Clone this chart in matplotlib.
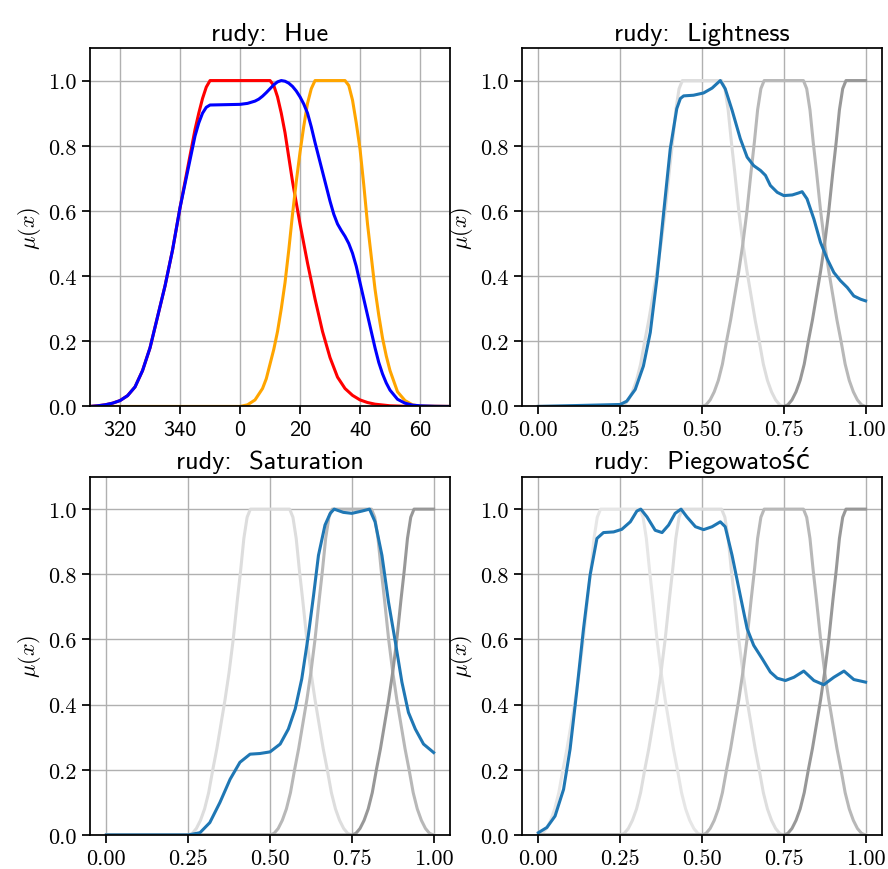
import numpy as np
import matplotlib
matplotlib.use("Agg")
import matplotlib.pyplot as plt

# ---- data ----
# Hue panel (x in degrees, wrapped: -40 -> 320)
hue_red_x = [-50, -47.5, -45, -42.5, -40, -37.5, -35, -32.5, -30, -27.5, -25, -22.5, -20, -17.5,
             -15, -13.75, -12.5, -11.25, -10,
             10, 11.25, 12.5, 13.75, 15, 16.25, 17.5, 18.75, 20, 21.25, 22.5, 25, 27.5, 30,
             32.5, 35, 37.5, 40, 42.5, 45, 50, 55, 70]
hue_red_y = [0.0, 0.002, 0.005, 0.01, 0.018, 0.033, 0.06, 0.11, 0.18, 0.275, 0.37, 0.48, 0.61, 0.73,
             0.85, 0.9, 0.945, 0.98, 1.0,
             1.0, 0.985, 0.95, 0.9, 0.84, 0.765, 0.69, 0.625, 0.56, 0.5, 0.44, 0.33, 0.23, 0.15,
             0.09, 0.055, 0.034, 0.02, 0.012, 0.007, 0.002, 0.0005, 0.0]

hue_orange_x = [-50, 0, 2.5, 5, 7.5, 8.75, 10, 11.25, 12.5, 13.75, 15, 16.25, 17.5, 18.75, 20,
                21.25, 22.5, 23.75, 25,
                35, 36.25, 37.5, 38.75, 40, 41.25, 42.5, 43.75, 45, 46.25, 47.5, 48.75, 50,
                52.5, 55, 57.5, 60, 70]
hue_orange_y = [0.0, 0.0, 0.005, 0.02, 0.055, 0.085, 0.13, 0.175, 0.23, 0.3, 0.38, 0.48, 0.59, 0.69, 0.78,
                0.86, 0.93, 0.975, 1.0,
                1.0, 0.985, 0.94, 0.87, 0.79, 0.68, 0.56, 0.46, 0.36, 0.28, 0.21, 0.155, 0.11,
                0.045, 0.018, 0.005, 0.001, 0.0]

hue_blue_x = [-50, -47.5, -45, -42.5, -40, -37.5, -35, -32.5, -30, -27.5, -25, -22.5, -20, -17.5,
              -15, -13.75, -12.5, -11.25, -10, -5, 0, 2.5, 5, 6.25, 7.5, 8.75, 10, 11.25, 12.5,
              13.75, 15, 16.25, 17.5, 18.75, 20, 21.25, 22.5, 23.75, 25, 26.25, 27.5, 28.75, 30,
              31.25, 32.5, 33.75, 35, 36.25, 37.5, 38.75, 40, 41.25, 42.5, 43.75, 45, 46.25,
              47.5, 48.75, 50, 52.5, 55, 57.5, 60, 65, 70]
hue_blue_y = [0.0, 0.002, 0.005, 0.01, 0.018, 0.033, 0.06, 0.11, 0.18, 0.275, 0.37, 0.48, 0.61, 0.72,
              0.83, 0.87, 0.9, 0.918, 0.925, 0.926, 0.927, 0.93, 0.937, 0.943, 0.952, 0.963, 0.975, 0.987, 0.996,
              1.0, 0.998, 0.992, 0.982, 0.968, 0.95, 0.928, 0.90, 0.858, 0.81, 0.765, 0.72, 0.675, 0.63,
              0.59, 0.56, 0.54, 0.522, 0.5, 0.47, 0.43, 0.38, 0.33, 0.28, 0.23, 0.18, 0.135,
              0.10, 0.072, 0.05, 0.022, 0.01, 0.004, 0.002, 0.0005, 0.0]

hue_ticks = [-40, -20, 0, 20, 40, 60]
hue_tick_labels = ['320', '340', '0', '20', '40', '60']

# fuzzy sets on [0, 1] (grey background curves)
set_p0_x = [0, 0.0125, 0.025, 0.0375, 0.05, 0.0625, 0.075, 0.0875, 0.1, 0.1125, 0.125, 0.1375,
            0.15, 0.16, 0.17, 0.18, 0.19,
            0.31, 0.32, 0.33, 0.34, 0.35, 0.3625, 0.375, 0.3875, 0.4, 0.4125, 0.425, 0.4375,
            0.45, 0.4625, 0.475, 0.4875, 0.5, 1.0]
set_p0_y = [0, 0.005, 0.02, 0.045, 0.08, 0.13, 0.2, 0.265, 0.34, 0.415, 0.5, 0.6,
            0.72, 0.81, 0.91, 0.975, 1.0,
            1.0, 0.975, 0.91, 0.81, 0.72, 0.6, 0.5, 0.415, 0.34, 0.265, 0.2, 0.13,
            0.08, 0.045, 0.02, 0.005, 0, 0]

set_low_x = [0, 0.25, 0.2625, 0.275, 0.2875, 0.3, 0.3125, 0.325, 0.3375, 0.35, 0.3625, 0.375,
             0.3875, 0.4, 0.41, 0.42, 0.43, 0.44,
             0.56, 0.57, 0.58, 0.59, 0.6, 0.6125, 0.625, 0.6375, 0.65, 0.6625, 0.675, 0.6875,
             0.7, 0.7125, 0.725, 0.7375, 0.75, 1.0]
set_low_y = [0, 0, 0.005, 0.02, 0.045, 0.08, 0.13, 0.2, 0.265, 0.34, 0.415, 0.5,
             0.6, 0.72, 0.81, 0.91, 0.975, 1.0,
             1.0, 0.975, 0.91, 0.81, 0.72, 0.6, 0.5, 0.415, 0.34, 0.265, 0.2, 0.13,
             0.08, 0.045, 0.02, 0.005, 0, 0]

set_mid_x = [0, 0.5, 0.5125, 0.525, 0.5375, 0.55, 0.5625, 0.575, 0.5875, 0.6, 0.6125, 0.625,
             0.6375, 0.65, 0.66, 0.67, 0.68, 0.69,
             0.81, 0.82, 0.83, 0.84, 0.85, 0.8625, 0.875, 0.8875, 0.9, 0.9125, 0.925, 0.9375,
             0.95, 0.9625, 0.975, 0.9875, 1.0]
set_mid_y = [0, 0, 0.005, 0.02, 0.045, 0.08, 0.13, 0.2, 0.265, 0.34, 0.415, 0.5,
             0.6, 0.72, 0.81, 0.91, 0.975, 1.0,
             1.0, 0.975, 0.91, 0.81, 0.72, 0.6, 0.5, 0.415, 0.34, 0.265, 0.2, 0.13,
             0.08, 0.045, 0.02, 0.005, 0]

set_high_x = [0, 0.75, 0.7625, 0.775, 0.7875, 0.8, 0.8125, 0.825, 0.8375, 0.85, 0.8625, 0.875,
              0.8875, 0.9, 0.91, 0.92, 0.93, 0.94, 1.0]
set_high_y = [0, 0, 0.005, 0.02, 0.045, 0.08, 0.13, 0.2, 0.265, 0.34, 0.415, 0.5,
              0.6, 0.72, 0.81, 0.91, 0.975, 1.0, 1.0]

# observed membership (blue) curves
light_x = [0, 0.25, 0.27, 0.296, 0.321, 0.342, 0.362, 0.383, 0.403, 0.423, 0.434, 0.444, 0.474, 0.505,
           0.531, 0.545, 0.556, 0.571, 0.592, 0.617, 0.638, 0.658, 0.679, 0.694, 0.709, 0.730, 0.75,
           0.776, 0.795, 0.806, 0.821, 0.842, 0.862, 0.883, 0.903, 0.923, 0.944, 0.964, 0.985, 1.0]
light_y = [0, 0.006, 0.016, 0.052, 0.124, 0.227, 0.39, 0.596, 0.79, 0.914, 0.945, 0.953, 0.955, 0.962,
           0.977, 0.99, 1.0, 0.975, 0.909, 0.822, 0.765, 0.739, 0.724, 0.709, 0.678, 0.657, 0.647,
           0.649, 0.655, 0.659, 0.637, 0.575, 0.504, 0.452, 0.411, 0.386, 0.365, 0.339, 0.329, 0.324]

sat_x = [0, 0.25, 0.286, 0.316, 0.347, 0.378, 0.408, 0.439, 0.469, 0.5, 0.531, 0.556, 0.577,
         0.597, 0.617, 0.633, 0.648, 0.668, 0.684, 0.696, 0.71, 0.724, 0.75, 0.781, 0.804, 0.821,
         0.842, 0.862, 0.883, 0.903, 0.923, 0.944, 0.969, 1.0]
sat_y = [0, 0.0, 0.007, 0.038, 0.10, 0.171, 0.223, 0.248, 0.25, 0.255, 0.279, 0.325, 0.387,
         0.479, 0.612, 0.735, 0.858, 0.951, 0.987, 1.0, 0.995, 0.99, 0.987, 0.994, 1.0, 0.961,
         0.858, 0.715, 0.592, 0.469, 0.376, 0.325, 0.279, 0.253]

freck_x = [0, 0.026, 0.051, 0.077, 0.097, 0.117, 0.138, 0.158, 0.179, 0.199, 0.230, 0.255,
           0.281, 0.301, 0.313, 0.332, 0.357, 0.378, 0.398, 0.418, 0.436, 0.454, 0.480, 0.505,
           0.531, 0.556, 0.571, 0.592, 0.617, 0.638, 0.658, 0.684, 0.709, 0.730, 0.755, 0.781,
           0.811, 0.842, 0.872, 0.903, 0.934, 0.964, 1.0]
freck_y = [0.007, 0.023, 0.058, 0.14, 0.264, 0.438, 0.633, 0.797, 0.91, 0.928, 0.93, 0.938,
           0.961, 0.994, 1.0, 0.976, 0.935, 0.928, 0.951, 0.987, 1.0, 0.976, 0.946, 0.937,
           0.946, 0.961, 0.946, 0.858, 0.735, 0.633, 0.582, 0.541, 0.5, 0.481, 0.474, 0.484,
           0.503, 0.474, 0.461, 0.484, 0.503, 0.477, 0.469]

# ---- style ----
plt.rcParams['mathtext.fontset'] = 'cm'
plt.rcParams['axes.unicode_minus'] = False
plt.rcParams['axes.linewidth'] = 1.25
for ax_name in ['xtick', 'ytick']:
    plt.rcParams[ax_name + '.major.size'] = 6
    plt.rcParams[ax_name + '.major.width'] = 1.25
    plt.rcParams[ax_name + '.labelsize'] = 16

serif = ['cmr10', 'DejaVu Serif']
sans = ['cmss10', 'DejaVu Sans']
LW = 2.2
BLUE = '#1f77b4'

fig, axes = plt.subplots(2, 2, figsize=(8.88, 8.7), dpi=100)
fig.subplots_adjust(left=0.1014, right=0.9932, bottom=0.0391, top=0.9437,
                    wspace=0.2, hspace=0.1955)


def style_axis(ax, title):
    ax.set_ylim(0, 1.1)
    ax.set_yticks([0, 0.2, 0.4, 0.6, 0.8, 1.0])
    ax.set_yticklabels(['0.0', '0.2', '0.4', '0.6', '0.8', '1.0'], family=serif)
    ax.grid(True, color='#b0b0b0', linewidth=1.0)
    ax.set_axisbelow(True)
    ax.set_title(title, family=sans, fontsize=19)
    ax.set_ylabel(r'$\mu(x)$', fontsize=16)


def unit_axis(ax):
    ax.set_xlim(-0.05, 1.05)
    ax.set_xticks([0, 0.25, 0.5, 0.75, 1.0])
    ax.set_xticklabels(['0.00', '0.25', '0.50', '0.75', '1.00'], family=serif)


# Hue
ax = axes[0, 0]
ax.plot(hue_red_x, hue_red_y, color='red', lw=LW)
ax.plot(hue_orange_x, hue_orange_y, color='orange', lw=LW)
ax.plot(hue_blue_x, hue_blue_y, color='blue', lw=LW)
ax.set_xlim(-50, 70)
ax.set_xticks(hue_ticks)
ax.set_xticklabels(hue_tick_labels, family=sans)
style_axis(ax, 'rudy:  Hue')

# Lightness
ax = axes[0, 1]
ax.plot(set_low_x, set_low_y, color='#dddddd', lw=LW)
ax.plot(set_mid_x, set_mid_y, color='#b8b8b8', lw=LW)
ax.plot(set_high_x, set_high_y, color='#989898', lw=LW)
ax.plot(light_x, light_y, color=BLUE, lw=LW)
unit_axis(ax)
style_axis(ax, 'rudy:  Lightness')

# Saturation
ax = axes[1, 0]
ax.plot(set_low_x, set_low_y, color='#dddddd', lw=LW)
ax.plot(set_mid_x, set_mid_y, color='#b8b8b8', lw=LW)
ax.plot(set_high_x, set_high_y, color='#989898', lw=LW)
ax.plot(sat_x, sat_y, color=BLUE, lw=LW)
unit_axis(ax)
style_axis(ax, 'rudy:  Saturation')

# Piegowatosc
ax = axes[1, 1]
ax.plot(set_p0_x, set_p0_y, color='#e6e6e6', lw=LW)
ax.plot(set_low_x, set_low_y, color='#dedede', lw=LW)
ax.plot(set_mid_x, set_mid_y, color='#b8b8b8', lw=LW)
ax.plot(set_high_x, set_high_y, color='#989898', lw=LW)
ax.plot(freck_x, freck_y, color=BLUE, lw=LW)
unit_axis(ax)
style_axis(ax, 'rudy:  Piegowatość')

fig.savefig('out.png', dpi=100)
